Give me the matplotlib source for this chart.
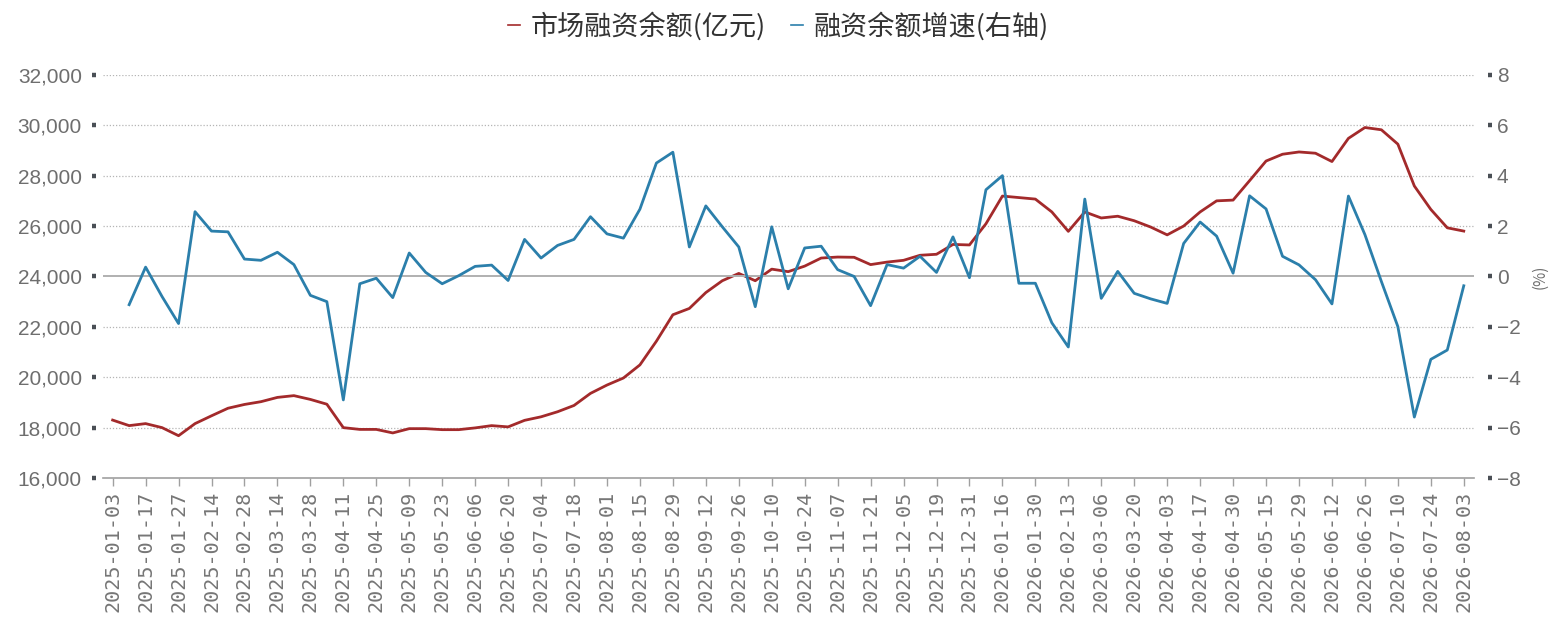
import numpy as np
import matplotlib
matplotlib.use('Agg')
import matplotlib.pyplot as plt
from matplotlib.lines import Line2D

plt.rcParams['font.family'] = ['Noto Sans CJK SC', 'DejaVu Sans']

# tick labels, one every second weekly point
x_labels = [
    '2025-01-03', '2025-01-17', '2025-01-27', '2025-02-14', '2025-02-28', '2025-03-14',
    '2025-03-28', '2025-04-11', '2025-04-25', '2025-05-09', '2025-05-23', '2025-06-06',
    '2025-06-20', '2025-07-04', '2025-07-18', '2025-08-01', '2025-08-15', '2025-08-29',
    '2025-09-12', '2025-09-26', '2025-10-10', '2025-10-24', '2025-11-07', '2025-11-21',
    '2025-12-05', '2025-12-19', '2025-12-31', '2026-01-16', '2026-01-30', '2026-02-13',
    '2026-03-06', '2026-03-20', '2026-04-03', '2026-04-17', '2026-04-30', '2026-05-15',
    '2026-05-29', '2026-06-12', '2026-06-26', '2026-07-10', '2026-07-24', '2026-08-03',
]

# 市场融资余额 (亿元), weekly
balance = [
    18300, 18080, 18160, 18000, 17680, 18160, 18470, 18770, 18920, 19030, 19200, 19270, 19120, 18930,
    18000, 17930, 17930, 17790, 17960, 17960, 17920, 17920, 17990, 18080, 18030, 18290, 18430, 18630,
    18880, 19360, 19690, 19970, 20490, 21430, 22480, 22730, 23360, 23830, 24120, 23830, 24290, 24190,
    24410, 24730, 24770, 24760, 24470, 24570, 24640, 24840, 24880, 25270, 25250, 26090, 27190, 27130,
    27070, 26560, 25790, 26560, 26320, 26390, 26210, 25960, 25650, 26000, 26560, 27000, 27030, 27800,
    28580, 28850, 28940, 28890, 28560, 29480, 29910, 29820, 29250, 27590, 26660, 25930, 25800,
]

# 融资余额增速 (%), first week has no value
growth = [
    np.nan, -1.12, 0.37, -0.80, -1.87, 2.57, 1.80, 1.77, 0.69, 0.64, 0.96, 0.47, -0.75, -1.00,
    -4.90, -0.29, -0.07, -0.84, 0.93, 0.16, -0.29, 0.03, 0.40, 0.45, -0.16, 1.47, 0.73, 1.23,
    1.47, 2.37, 1.69, 1.52, 2.67, 4.50, 4.93, 1.17, 2.80, 1.97, 1.17, -1.20, 1.97, -0.49,
    1.13, 1.20, 0.27, 0.00, -1.16, 0.47, 0.33, 0.80, 0.16, 1.57, -0.05, 3.44, 4.00, -0.27,
    -0.27, -1.84, -2.80, 3.07, -0.87, 0.20, -0.67, -0.89, -1.07, 1.31, 2.16, 1.60, 0.13, 3.20,
    2.68, 0.80, 0.46, -0.13, -1.09, 3.19, 1.66, -0.20, -1.99, -5.58, -3.29, -2.92, -0.37,
]

red = '#a32a2b'
blue = '#2b7fab'
label_gray = '#6e6e6e'

fig = plt.figure(figsize=(15.57, 6.29), dpi=100)
ax = fig.add_axes([0.066, 0.240, 0.881, 0.641])
ax2 = ax.twinx()

x = np.arange(len(balance))
ax.plot(x, balance, color=red, linewidth=2.0, zorder=3)
ax2.plot(x, growth, color=blue, linewidth=2.0, zorder=3)

ax.set_xlim(-0.6, 82.65)
ax.set_ylim(16000, 32000)
ax2.set_ylim(-8, 8)

ax.set_yticks(np.arange(16000, 32001, 2000))
ax.set_yticklabels([f'{v:,}' for v in range(16000, 32001, 2000)])
ax2.set_yticks(np.arange(-8, 9, 2))

ax.set_xticks(x[::2])
ax.set_xticklabels(x_labels, rotation=90, family='DejaVu Sans Mono',
                   fontsize=14.5, color='#767676')

# dotted grid, solid zero line
for v in range(18000, 32001, 2000):
    if v != 24000:
        ax.axhline(v, color='#b5b5b5', linestyle=(0, (1, 1.5)), linewidth=0.9, zorder=1)
ax2.axhline(0, color='#b0b0b0', linewidth=1.4, zorder=1)

for a in (ax, ax2):
    for s in ('top', 'left', 'right'):
        a.spines[s].set_visible(False)
ax2.spines['bottom'].set_visible(False)
ax.spines['bottom'].set_color('#a0a0a0')
ax.spines['bottom'].set_linewidth(1.2)
ax.spines['left'].set_position(('outward', 5))
ax2.spines['right'].set_position(('outward', 10))

ax.tick_params(axis='y', length=3, width=3.2, color='#4a4f55', pad=7,
               labelsize=15, labelcolor=label_gray)
ax2.tick_params(axis='y', length=3, width=3.2, color='#4a4f55', pad=3,
                labelsize=15, labelcolor=label_gray)
ax.tick_params(axis='x', length=6, width=1, color='#a0a0a0', pad=3)
for t in ax.get_yticklabels() + ax2.get_yticklabels():
    t.set_family(['Liberation Sans', 'DejaVu Sans'])

ax2.set_ylabel('(%)', color=label_gray, fontsize=11, labelpad=8)

handles = [Line2D([], [], color=red, linewidth=1.2),
           Line2D([], [], color=blue, linewidth=1.2)]
fig.legend(handles, ['市场融资余额(亿元)', '融资余额增速(右轴)'], loc='upper center',
           bbox_to_anchor=(0.5, 1.02), ncol=2, frameon=False, fontsize=19.5,
           handlelength=0.45, handletextpad=0.4, columnspacing=0.9, labelcolor='#333333')

fig.savefig('out.png', dpi=100)
plt.close(fig)
